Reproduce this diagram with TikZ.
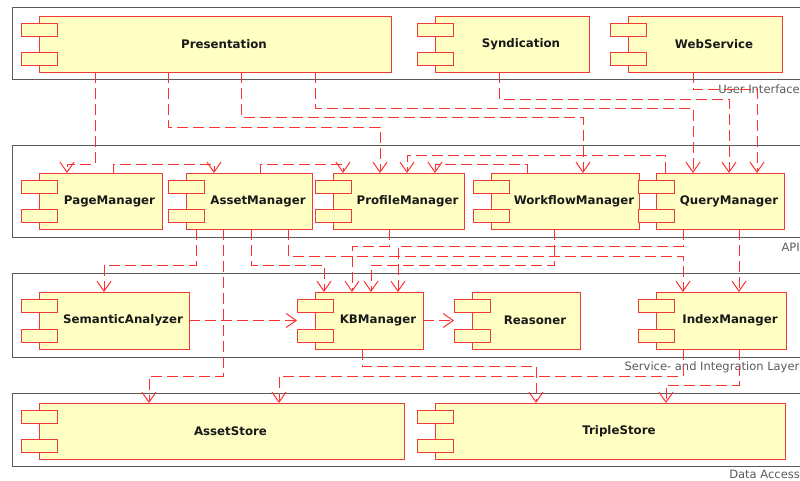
\documentclass[tikz,border=0pt]{standalone}
\usepackage{fontspec}
\newfontfamily\djv{DejaVu Sans}
\usetikzlibrary{arrows.meta}
\definecolor{compfill}{HTML}{FFFFC4}
\definecolor{compline}{HTML}{F03A3A}
\definecolor{depline}{HTML}{FF3030}
\definecolor{framecol}{HTML}{5A5A5A}
\definecolor{labelcol}{HTML}{5A5A5A}
\tikzset{
  compbody/.style={draw=compline, fill=compfill, line width=0.9pt, inner sep=0pt, outer sep=0pt, rectangle},
  comptab/.style={draw=compline, fill=compfill, line width=0.9pt},
  complabel/.style={font=\djv\bfseries\fontsize{11.8}{14}\selectfont, text=black!90, inner sep=0pt},
  layerframe/.style={draw=framecol, line width=1pt},
  layerlabel/.style={font=\djv\fontsize{11.5}{14}\selectfont, text=labelcol, inner sep=0pt, anchor=base east},
  dep/.style={draw=depline, line width=1pt, dash pattern=on 11pt off 5pt, -{Straight Barb[length=10pt,width=14pt]}},
}
\newcommand{\comp}[6]{%
  \node[compbody, minimum width={(#4-#2)*1pt}, minimum height={(#5-#3)*1pt}, anchor=north west] (#1) at (#2,#3) {};
  \draw[comptab] (#2-18,#3+7) rectangle (#2+18,#3+20);
  \draw[comptab] (#2-18,#5-20) rectangle (#2+18,#5-7);
  \node[complabel] (#1-lbl) at ({(#2+18+#4)/2},{(#3+#5)/2}) {#6};
}
\begin{document}
\begin{tikzpicture}[x=1pt,y=-1pt]
\useasboundingbox (0,0) rectangle (800,480);
% layers
\draw[layerframe] (12,7) rectangle (810,79);
\draw[layerframe] (12,145) rectangle (810,237);
\draw[layerframe] (12,273) rectangle (810,357);
\draw[layerframe] (12,393) rectangle (810,466);
\node[layerlabel] (lui) at (800,93.3) {User Interface};
\node[layerlabel] (lapi) at (800,251.7) {API};
\node[layerlabel] (lsvc) at (799.5,370.5) {Service- and Integration Layer};
\node[layerlabel] (lda) at (800,478) {Data Access};
% components
\comp{pres}{39}{16}{391}{72}{Presentation}
\comp{synd}{435}{16}{589}{72}{Syndication}
\comp{ws}{628}{16}{782}{72}{WebService}
\comp{pm}{39}{173}{162}{229}{PageManager}
\comp{am}{186}{173}{312}{229}{AssetManager}
\comp{prm}{333}{173}{464}{229}{ProfileManager}
\comp{wm}{491}{173}{639}{229}{WorkflowManager}
\comp{qm}{656}{173}{784}{229}{QueryManager}
\comp{sa}{39}{292}{189}{349}{SemanticAnalyzer}
\comp{kb}{315}{292}{423}{349}{KBManager}
\comp{rs}{472}{292}{580}{349}{Reasoner}
\comp{im}{656}{292}{786}{349}{IndexManager}
\comp{as}{39}{403}{404}{459}{AssetStore}
\comp{ts}{435}{403}{785}{459}{TripleStore}
% UI -> API
\draw[dep] ([xshift=56pt]pres.south west) |- ([xshift=28pt,yshift=9pt]pm.north west) -- ([xshift=28pt]pm.north west);
\draw[dep] ([xshift=129pt]pres.south west) |- ([xshift=47pt,yshift=46pt]prm.north west) -- ([xshift=47pt]prm.north west);
\draw[dep] ([xshift=202pt]pres.south west) |- ([xshift=92pt,yshift=56pt]wm.north west) -- ([xshift=92pt]wm.north west);
\draw[dep] ([xshift=276pt]pres.south west) |- ([xshift=37pt,yshift=65pt]qm.north west) -- ([xshift=37pt]qm.north west);
\draw[dep] ([xshift=64pt]synd.south west) |- ([xshift=73pt,yshift=74pt]qm.north west) -- ([xshift=73pt]qm.north west);
\draw[dep] ([xshift=65pt]ws.south west) |- ([xshift=101pt,yshift=84pt]qm.north west) -- ([xshift=101pt]qm.north west);
% within API
\draw[dep] ([xshift=74pt]pm.north west) -- ++(0,-9) -| ([xshift=28pt]am.north west);
\draw[dep] ([xshift=74pt]am.north west) -- ++(0,-9) -| ([xshift=10pt]prm.north west);
\draw[dep] ([xshift=36pt]wm.north west) -- ++(0,-9) -| ([xshift=102pt]prm.north west);
\draw[dep] ([xshift=9pt]qm.north west) -- ++(0,-18) -| ([xshift=74pt]prm.north west);
% API -> Service / Data
\draw[dep] ([xshift=10pt]am.south west) -- ++(0,36) -| ([xshift=65pt]sa.north west);
\draw[dep] ([xshift=37pt]am.south west) -- ++(0,147) -| ([xshift=110pt]as.north west);
\draw[dep] ([xshift=65pt]am.south west) -- ++(0,36) -| ([xshift=9pt]kb.north west);
\draw[dep] ([xshift=102pt]am.south west) -- ++(0,27) -| ([xshift=27pt]im.north west);
\draw[dep] ([xshift=56pt]prm.south west) -- ++(0,17) -| ([xshift=37pt]kb.north west);
\draw[dep] ([xshift=27pt]qm.south west) -- ++(0,17) -| ([xshift=83pt]kb.north west);
\draw[dep] ([xshift=83pt]qm.south west) -- ([xshift=83pt]im.north west);
\draw[dep] ([xshift=63pt]wm.south west) -- ++(0,36) -| ([xshift=56pt]kb.north west);
% within Service
\draw[dep] (sa.east) -- ([xshift=-18pt]kb.west);
\draw[dep] (kb.east) -- ([xshift=-18pt]rs.west);
% Service -> Data
\draw[dep] ([xshift=47pt]kb.south west) -- ++(0,17) -| ([xshift=101pt]ts.north west);
\draw[dep] ([xshift=27pt]im.south west) -- ++(0,27) -| ([xshift=240pt]as.north west);
\draw[dep] ([xshift=83pt]im.south west) -- ++(0,36) -| ([xshift=231pt]ts.north west);
\end{tikzpicture}
\end{document}
